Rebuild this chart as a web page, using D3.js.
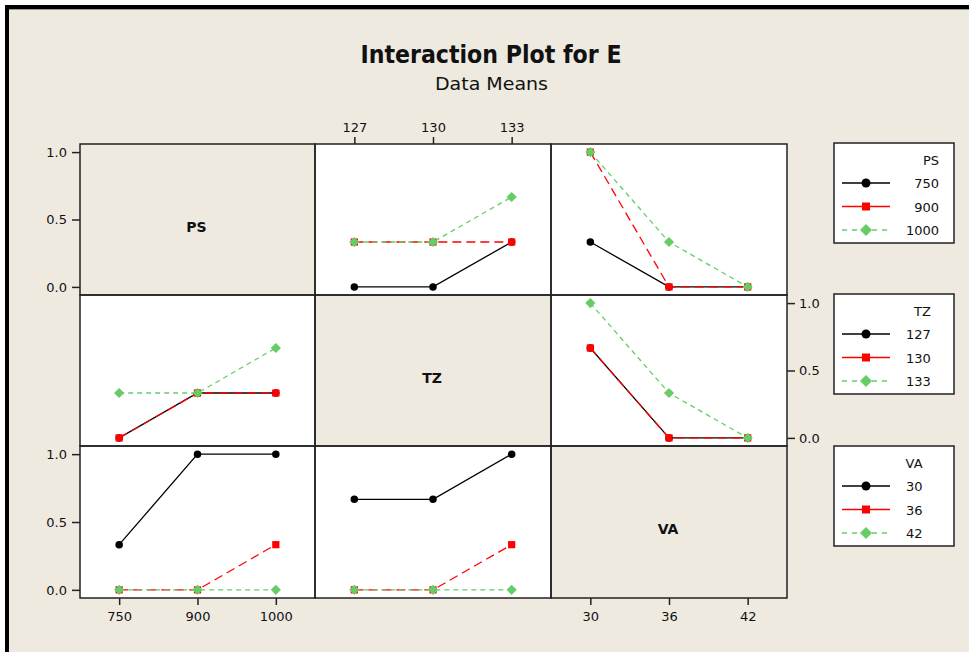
<!DOCTYPE html>
<html><head><meta charset="utf-8">
<script src="https://cdn.jsdelivr.net/npm/d3@7"></script>
<style>body{margin:0;background:#fff}svg{display:block}</style>
</head><body>
<script>
// ---------- data ----------
const titleText = "Interaction Plot for E";
const subtitleText = "Data Means";
const factorNames = ["PS", "TZ", "VA"];
const psLevels = ["750", "900", "1000"];
const tzLevels = ["127", "130", "133"];
const vaLevels = ["30", "36", "42"];
const yTicks = [0, 0.5, 1.0];
// means: one row per level of the trace (legend) factor, one value per level of the x factor
const psByTZ = [[0, 0, 0.333], [0.333, 0.333, 0.333], [0.333, 0.333, 0.667]];
const psByVA = [[0.333, 0, 0], [1, 0, 0], [1, 0.333, 0]];
const tzByPS = [[0, 0.333, 0.333], [0, 0.333, 0.333], [0.333, 0.333, 0.667]];
const tzByVA = [[0.667, 0, 0], [0.667, 0, 0], [1, 0.333, 0]];
const vaByPS = [[0.333, 1, 1], [0, 0, 0.333], [0, 0, 0]];
const vaByTZ = [[0.667, 0.667, 1], [0, 0, 0.333], [0, 0, 0]];

// ---------- layout ----------
const W = 969, H = 652;
const colX = [80, 315, 551, 787];
const rowY = [144, 295, 446, 598];
const beige = "#EEEAE0";
const levels = [psLevels, tzLevels, vaLevels];
const tables = {"0-1": psByTZ, "0-2": psByVA, "1-0": tzByPS, "1-2": tzByVA, "2-0": vaByPS, "2-1": vaByTZ};
const styles = [
  {color: "#000000", dash: null, shape: "circle"},
  {color: "#FF0000", dash: "9,5", shape: "square"},
  {color: "#66CC66", dash: "5,4", shape: "diamond"}
];

const svg = d3.select("body").append("svg").attr("width", W).attr("height", H);
svg.append("rect").attr("width", W).attr("height", H).attr("fill", "#fff");
svg.append("rect").attr("x", 7).attr("y", 7).attr("width", W + 20).attr("height", H - 5)
  .attr("fill", beige).attr("stroke", "#000").attr("stroke-width", 4);
svg.append("line").attr("x1", 9).attr("x2", W).attr("y1", 9.5).attr("y2", 9.5).attr("stroke", "#999").attr("stroke-width", 1);

const font = "'DejaVu Sans', Verdana, sans-serif";

// title
svg.append("text").attr("x", 491).attr("y", 63).attr("text-anchor", "middle")
  .attr("font-family", "'Liberation Sans Narrow','DejaVu Sans Condensed','Liberation Sans',sans-serif")
  .attr("font-weight", "bold").attr("font-size", 25).attr("fill", "#111")
  .attr("textLength", 261).attr("lengthAdjust", "spacingAndGlyphs").text(titleText);
svg.append("text").attr("x", 491.5).attr("y", 90).attr("text-anchor", "middle")
  .attr("font-family", "'Liberation Sans Narrow','DejaVu Sans Condensed','Liberation Sans',sans-serif")
  .attr("font-size", 18).attr("fill", "#111")
  .attr("textLength", 113).attr("lengthAdjust", "spacingAndGlyphs").text(subtitleText);

// scales
const xScales = levels.map((lv, j) => d3.scalePoint().domain(lv).range([colX[j], colX[j + 1]]).padding(0.5));
const yScales = [0, 1, 2].map(i => d3.scaleLinear().domain([-0.06, 1.06]).range([rowY[i + 1], rowY[i]]));

function symbolPath(shape, big) {
  if (shape === "circle") return d3.symbol(d3.symbolCircle, big ? 64 : 44)();
  if (shape === "square") return d3.symbol(d3.symbolSquare, big ? 64 : 52)();
  return d3.symbol(d3.symbolSquare, big ? 72 : 52)();
}
function symbolRot(shape) { return shape === "diamond" ? " rotate(45)" : ""; }

// panels
for (let i = 0; i < 3; i++) {
  for (let j = 0; j < 3; j++) {
    const g = svg.append("g");
    const x0 = colX[j], x1 = colX[j + 1], y0 = rowY[i], y1 = rowY[i + 1];
    g.append("rect").attr("x", x0).attr("y", y0).attr("width", x1 - x0).attr("height", y1 - y0)
      .attr("fill", i === j ? beige : "#fff");
    if (i === j) {
      g.append("text").attr("x", (x0 + x1) / 2 - 1).attr("y", (y0 + y1) / 2 + 12)
        .attr("text-anchor", "middle").attr("font-family", font).attr("font-weight", "bold")
        .attr("font-size", 14).attr("fill", "#111").text(factorNames[i]);
      continue;
    }
    const data = tables[i + "-" + j];
    const xs = xScales[j], ys = yScales[i];
    const line = d3.line().x((d, k) => xs(levels[j][k])).y(d => ys(d));
    data.forEach((series, s) => {
      const st = styles[s];
      g.append("path").attr("d", line(series)).attr("fill", "none").attr("stroke", st.color)
        .attr("stroke-width", 1.3).attr("stroke-dasharray", st.dash);
      series.forEach((v, k) => {
        g.append("path").attr("d", symbolPath(st.shape, false))
          .attr("transform", `translate(${xs(levels[j][k])},${ys(v)})` + symbolRot(st.shape))
          .attr("fill", st.color);
      });
    });
  }
}
// panel borders
for (let i = 0; i < 3; i++) for (let j = 0; j < 3; j++) {
  svg.append("rect").attr("x", colX[j]).attr("y", rowY[i]).attr("width", colX[j + 1] - colX[j])
    .attr("height", rowY[i + 1] - rowY[i]).attr("fill", "none").attr("stroke", "#222").attr("stroke-width", 1.5);
}

// axes
function styleAxis(sel) {
  sel.selectAll("path.domain").remove();
  sel.selectAll("line").attr("stroke", "#222").attr("stroke-width", 1.5);
  sel.selectAll("text").attr("font-family", font).attr("font-size", 13).attr("fill", "#111");
}
const fmt = d3.format(".1f");
[0, 2].forEach(i => {
  svg.append("g").attr("transform", `translate(${colX[0]},0)`)
    .call(d3.axisLeft(yScales[i]).tickValues(yTicks).tickFormat(fmt).tickSize(8).tickPadding(5)).call(styleAxis);
});
svg.append("g").attr("transform", `translate(${colX[3]},0)`)
  .call(d3.axisRight(yScales[1]).tickValues(yTicks).tickFormat(fmt).tickSize(8).tickPadding(4)).call(styleAxis);
svg.append("g").attr("transform", `translate(0,${rowY[0]})`)
  .call(d3.axisTop(xScales[1]).tickSize(7).tickPadding(5)).call(styleAxis);
[0, 2].forEach(j => {
  svg.append("g").attr("transform", `translate(0,${rowY[3]})`)
    .call(d3.axisBottom(xScales[j]).tickSize(7).tickPadding(7)).call(styleAxis);
});

// legends
const legTop = [143, 294, 446];
levels.forEach((lv, i) => {
  const g = svg.append("g").attr("transform", `translate(834,${legTop[i]})`);
  g.append("rect").attr("width", 120).attr("height", 100).attr("fill", "#fff")
    .attr("stroke", "#222").attr("stroke-width", 1.5);
  const texts = [factorNames[i], ...lv];
  const tmp = texts.map(t => g.append("text").attr("font-family", font).attr("font-size", 13).attr("fill", "#111").text(t));
  const maxW = d3.max(tmp.slice(1), t => t.node().getComputedTextLength());
  const right = 72 + maxW;
  tmp.forEach((t, k) => {
    t.attr("x", right).attr("y", 17 + (k === 0 ? 0 : 23 + (k - 1) * 23.5) + 5).attr("text-anchor", "end");
  });
  lv.forEach((l, s) => {
    const st = styles[s];
    const yy = 40 + s * 23.5;
    g.append("line").attr("x1", 8).attr("x2", 56).attr("y1", yy).attr("y2", yy)
      .attr("stroke", st.color).attr("stroke-width", 1.3).attr("stroke-dasharray", s === 2 ? "5,5" : null);
    g.append("path").attr("d", symbolPath(st.shape, true))
      .attr("transform", `translate(32,${yy})` + symbolRot(st.shape)).attr("fill", st.color);
  });
});
</script>
</body></html>
